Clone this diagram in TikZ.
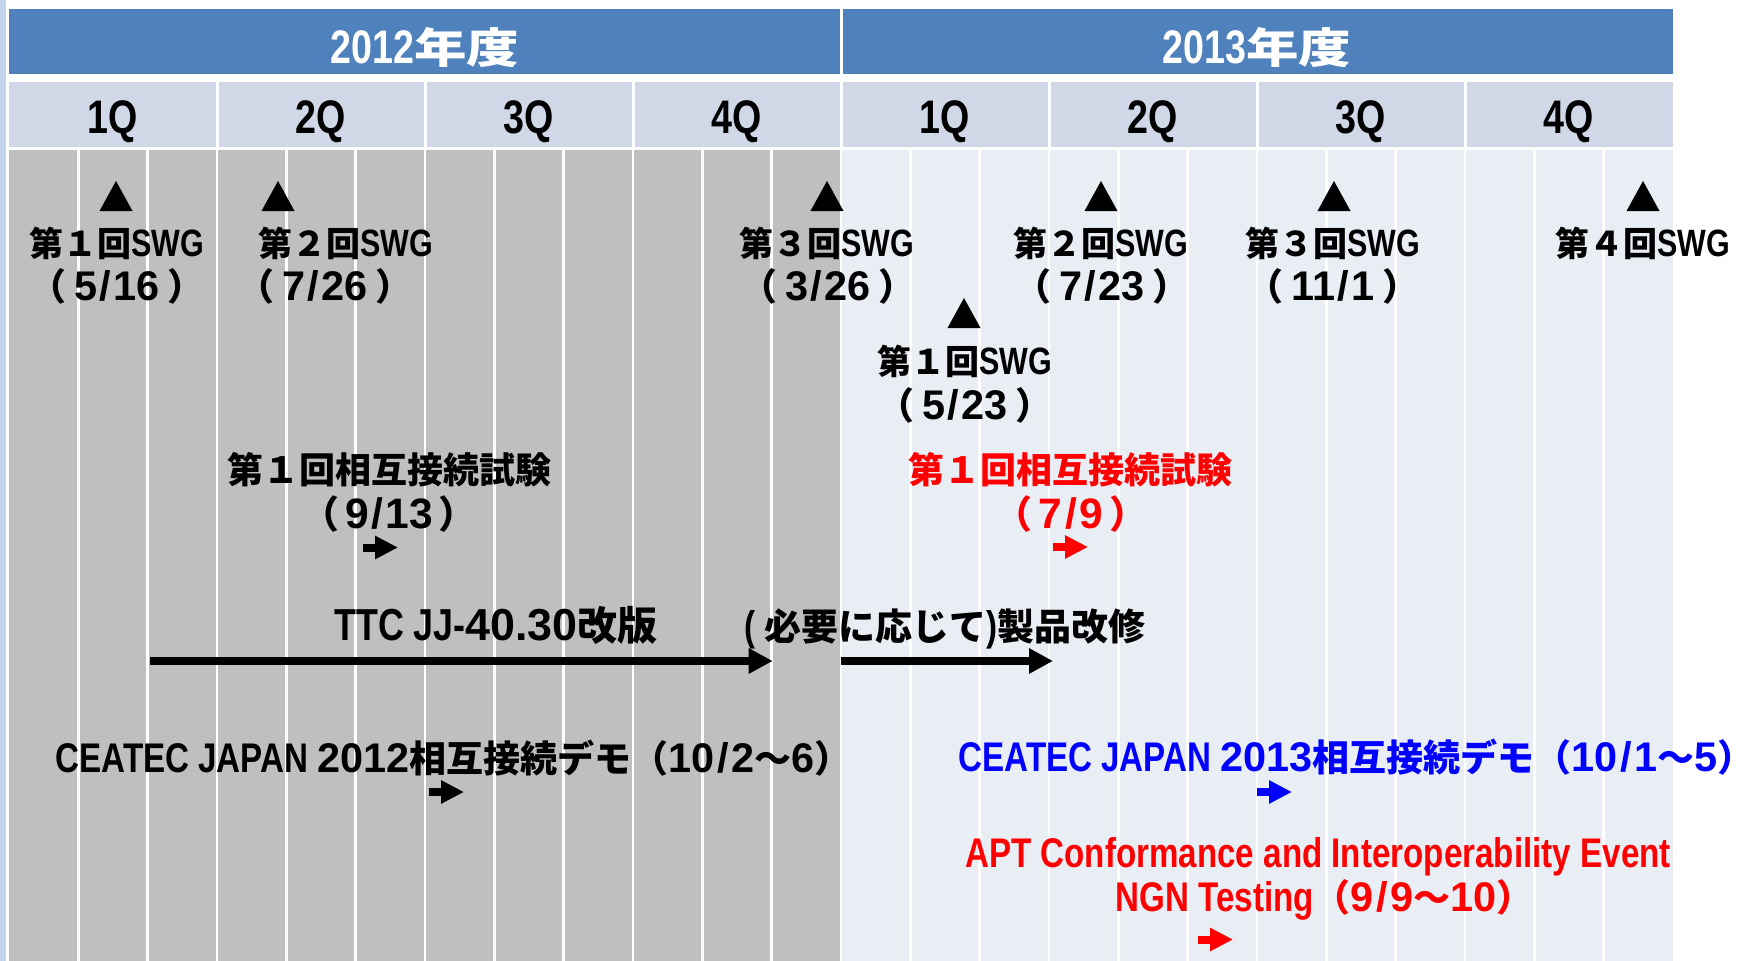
\documentclass[tikz,border=0pt]{standalone}
\usepackage{fontspec}
\usepackage{graphicx}
\setmainfont{Liberation Sans}[FakeStretch=0.8,Scale=1.12]
\newfontfamily\Jfont{Noto Sans CJK JP}
\newfontfamily\digfont{Liberation Sans}[Scale=1.12]
\newcommand\JP[1]{{\Jfont #1}}
\newcommand\dig[1]{{\digfont #1}}
\newcommand\sls{\kern2.5pt/\kern2.5pt}
% date in full-width parentheses: #1 = inner kern, #2 = content
\newcommand\pdate[2]{\JP{（}\kern#1{\digfont #2}\kern#1\JP{）}}
\usetikzlibrary{arrows.meta}
\definecolor{hdrblue}{RGB}{79,129,189}
\definecolor{qcell}{RGB}{208,216,232}
\definecolor{graybody}{RGB}{191,191,191}
\definecolor{lightbody}{RGB}{233,237,244}
\definecolor{stripblue}{RGB}{196,212,236}
\definecolor{evred}{RGB}{255,0,0}
\definecolor{evblue}{RGB}{0,0,255}
\begin{document}
\begin{tikzpicture}[x=1pt,y=-1pt,
  lab/.style={anchor=base,inner sep=0pt,font=\bfseries},
  hdr/.style={lab,text=white,font=\bfseries\fontsize{42}{50}\selectfont},
  qlab/.style={lab,font=\bfseries\fontsize{42}{50}\selectfont},
  swg/.style={lab,font=\bfseries\fontsize{34}{40}\selectfont},
  swgdate/.style={lab,font=\bfseries\fontsize{37}{44}\selectfont},
  big/.style={lab,font=\bfseries\fontsize{36}{44}\selectfont},
  bigdate/.style={lab,font=\bfseries\fontsize{38}{46}\selectfont},
  ttcfont/.style={lab,font=\bfseries\fontsize{40}{48}\selectfont},
  mid/.style={lab,font=\bfseries\fontsize{37}{44}\selectfont},
  sep/.style={white,line width=3pt},
  month/.style={white,line width=2.5pt},
  longarrow/.style={line width=8pt,-{Triangle[length=24pt,width=24pt]}},
  shortarrow/.style={line width=8pt,-{Triangle[length=23pt,width=22pt]}}
]
\useasboundingbox (0,0) rectangle (1741,961);
\fill[white] (0,0) rectangle (1741,961);
\fill[stripblue] (0,0) rectangle (6,961);
% header
\fill[hdrblue] (9,9) rectangle (1673,74);
\draw[sep] (841,9) -- (841,74);
% quarter row
\fill[qcell] (9,82) rectangle (1673,147);
\foreach \j in {1,...,7} \draw[sep] ({9+\j*208},82) -- ({9+\j*208},147);
% body
\fill[graybody] (9,150) rectangle (841,961);
\fill[lightbody] (841,150) rectangle (1673,961);
\foreach \k in {1,...,23} \draw[month] ({9+\k*69.333},150) -- ({9+\k*69.333},961);

% header labels
\node[hdr] (y12) at (425,63) {2012\JP{\scalebox{1.25}[1]{年度}}};
\node[hdr] (y13) at (1257,63) {2013\JP{\scalebox{1.25}[1]{年度}}};
% quarter labels
\foreach \q/\t [count=\i from 0] in {1/1Q,2/2Q,3/3Q,4/4Q,5/1Q,6/2Q,7/3Q,8/4Q}
  \node[qlab] (q\q) at ({113+\i*208},133) {\t};

% triangles
\foreach \x/\y in {116/211,278/211,827/211,1101/211,1334/211,1643/211,964/328}
  \fill (\x-16.5,\y) -- (\x,\y-30) -- (\x+16.5,\y) -- cycle;

% SWG labels
\node[swg] (s1) at (117,256) {\JP{第１回}SWG};
\node[swgdate] (s1d) at (117,300) {\pdate{8pt}{5\sls16}};
\node[swg] (s2) at (346,256) {\JP{第２回}SWG};
\node[swgdate] (s2d) at (325,300) {\pdate{8pt}{7\sls26}};
\node[swg] (s3) at (827,256) {\JP{第３回}SWG};
\node[swgdate] (s3d) at (828,300) {\pdate{8pt}{3\sls26}};
\node[swg] (t2) at (1101,256) {\JP{第２回}SWG};
\node[swgdate] (t2d) at (1102,300) {\pdate{8pt}{7\sls23}};
\node[swg] (t3) at (1333,256) {\JP{第３回}SWG};
\node[swgdate] (t3d) at (1333,300) {\pdate{8pt}{11\sls1}};
\node[swg] (t4) at (1643,256) {\JP{第４回}SWG};
\node[swg] (t1) at (965,374) {\JP{第１回}SWG};
\node[swgdate] (t1d) at (965,419) {\pdate{8pt}{5\sls23}};

% interoperability tests
\node[big] (it1) at (389,483) {\JP{第１回相互接続試験}};
\node[bigdate] (it1d) at (389,528) {\pdate{6pt}{9\sls13}};
\coordinate (it1a) at (363,547.5);
\coordinate (it1b) at (398,547.5);
\draw[shortarrow] (it1a) -- (it1b);
\node[big,text=evred] (it2) at (1070,483) {\JP{第１回相互接続試験}};
\node[bigdate,text=evred] (it2d) at (1071,528) {\pdate{6pt}{7\sls9}};
\coordinate (it2a) at (1053,547);
\coordinate (it2b) at (1088,547);
\draw[shortarrow,evred] (it2a) -- (it2b);

% TTC revision
\node[ttcfont] (ttc) at (496,640) {TTC JJ-\dig{40.30}\JP{改版}};
\node[mid] (fix) at (945,640) {( \JP{必要に応じて})\JP{製品改修}};
\coordinate (ttca) at (150,661);
\coordinate (ttcb) at (772.7,661);
\draw[longarrow] (ttca) -- (ttcb);
\coordinate (fixa) at (841,661);
\coordinate (fixb) at (1053,661);
\draw[longarrow] (fixa) -- (fixb);

% CEATEC
\node[mid] (ce12) at (445,772) {CEATEC JAPAN \dig{2012}\JP{相互接続デモ（}\dig{10\sls2}\JP{～}\dig{6}\JP{）}\kern-17pt};
\coordinate (ce12a) at (429,792);
\coordinate (ce12b) at (464,792);
\draw[shortarrow] (ce12a) -- (ce12b);
\node[mid,text=evblue] (ce13) at (1348,771) {CEATEC JAPAN \dig{2013}\JP{相互接続デモ（}\dig{10\sls1}\JP{～}\dig{5}\JP{）}\kern-17pt};
\coordinate (ce13a) at (1257,792);
\coordinate (ce13b) at (1292,792);
\draw[shortarrow,evblue] (ce13a) -- (ce13b);

% APT
\node[mid,text=evred] (apt) at (1318,867) {APT Conformance and Interoperability Event};
\node[mid,text=evred] (ngn) at (1316,911) {NGN Testing\JP{（}\dig{9\sls9}\JP{～}\dig{10}\JP{）}\kern-17pt};
\coordinate (apta) at (1198,939.5);
\coordinate (aptb) at (1233,939.5);
\draw[shortarrow,evred] (apta) -- (aptb);
\end{tikzpicture}
\end{document}
